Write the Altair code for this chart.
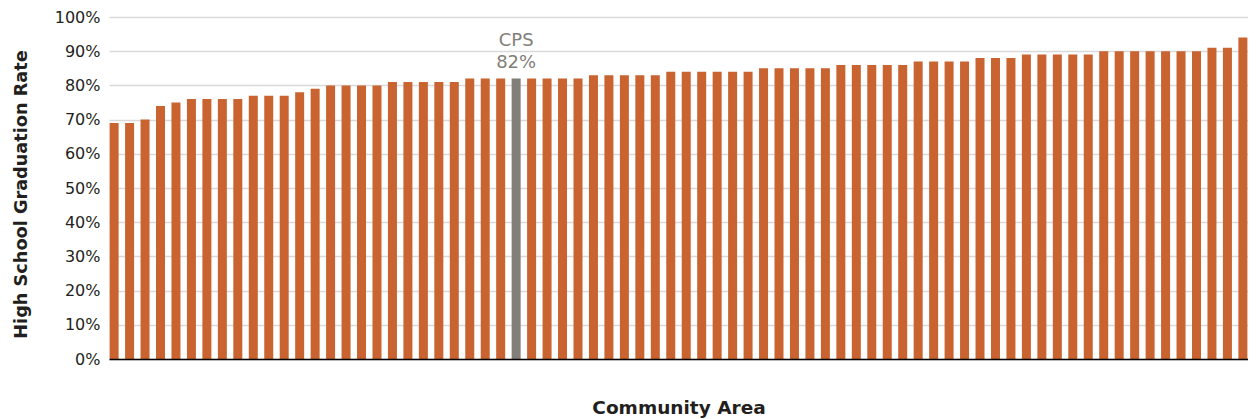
import altair as alt
import pandas as pd

# Data (graduation rates, %)
areas = [f"Area {i}" for i in range(1, 27)] + ["CPS"] + [f"Area {i}" for i in range(27, 74)]
rates_pct = [
    69, 69, 70, 74, 75, 76, 76, 76, 76, 77, 77, 77, 78, 79,
    80, 80, 80, 80, 81, 81, 81, 81, 81, 82, 82, 82,
    82,  # CPS
    82, 82, 82, 82,
    83, 83, 83, 83, 83,
    84, 84, 84, 84, 84, 84,
    85, 85, 85, 85, 85,
    86, 86, 86, 86, 86,
    87, 87, 87, 87,
    88, 88, 88,
    89, 89, 89, 89, 89,
    90, 90, 90, 90, 90, 90, 90,
    91, 91,
    94,
]
groups = ["CPS" if a == "CPS" else "Community Area" for a in areas]
notes = [f"CPS\n{r}%" if a == "CPS" else "" for a, r in zip(areas, rates_pct)]
y_ticks = [0, 0.1, 0.2, 0.3, 0.4, 0.5, 0.6, 0.7, 0.8, 0.9, 1.0]

df = pd.DataFrame({
    "area": areas,
    "rate": [r / 100 for r in rates_pct],
    "group": groups,
    "note": notes,
})

FONT = "DejaVu Sans"
ORANGE = "#C96330"
GRAY = "#827E78"
TEXT = "#231F20"

base = alt.Chart(df)

x_enc = alt.X(
    "area:N",
    sort=None,
    scale=alt.Scale(paddingInner=0.418, paddingOuter=0.04),
    axis=alt.Axis(
        labels=False, ticks=False, grid=False,
        domain=True, domainColor="#000000", domainWidth=1.5,
        title="Community Area", titleFont=FONT, titleFontSize=18.5,
        titleFontWeight="bold", titleColor=TEXT,
        titleY=54.6, titleBaseline="alphabetic", zindex=1,
    ),
)
y_enc = alt.Y(
    "rate:Q",
    scale=alt.Scale(domain=[0, 1]),
    axis=alt.Axis(
        values=y_ticks, format=".0%", ticks=False, domain=False,
        labelOverlap=False,
        labelFont=FONT, labelFontSize=16, labelColor=TEXT, labelPadding=9,
        gridColor="#D9D9D9", gridWidth=1.5,
        title="High School Graduation Rate", titleFont=FONT, titleFontSize=17.7,
        titleFontWeight="bold", titleColor=TEXT, titleAngle=270,
        titleX=-88, titleY=177, titleAlign="center", titleBaseline="middle",
    ),
)

bars = base.mark_bar().encode(
    x=x_enc,
    y=y_enc,
    color=alt.Color(
        "group:N",
        scale=alt.Scale(domain=["Community Area", "CPS"], range=[ORANGE, GRAY]),
        legend=None,
    ),
)

label = base.transform_filter(alt.datum.group == "CPS").mark_text(
    font=FONT, fontSize=18, color=GRAY, align="center", baseline="alphabetic",
    lineBreak="\n", lineHeight=22, dy=-33,
).encode(
    x=x_enc,
    y=y_enc,
    text="note:N",
)

chart = (
    alt.layer(bars, label)
    .properties(
        width=1139, height=342, autosize="none",
        padding={"left": 101, "top": 9, "right": 0, "bottom": 60},
    )
    .configure_view(stroke=None)
)

chart.save("out.html", embed_options={"renderer": "svg", "actions": False})
